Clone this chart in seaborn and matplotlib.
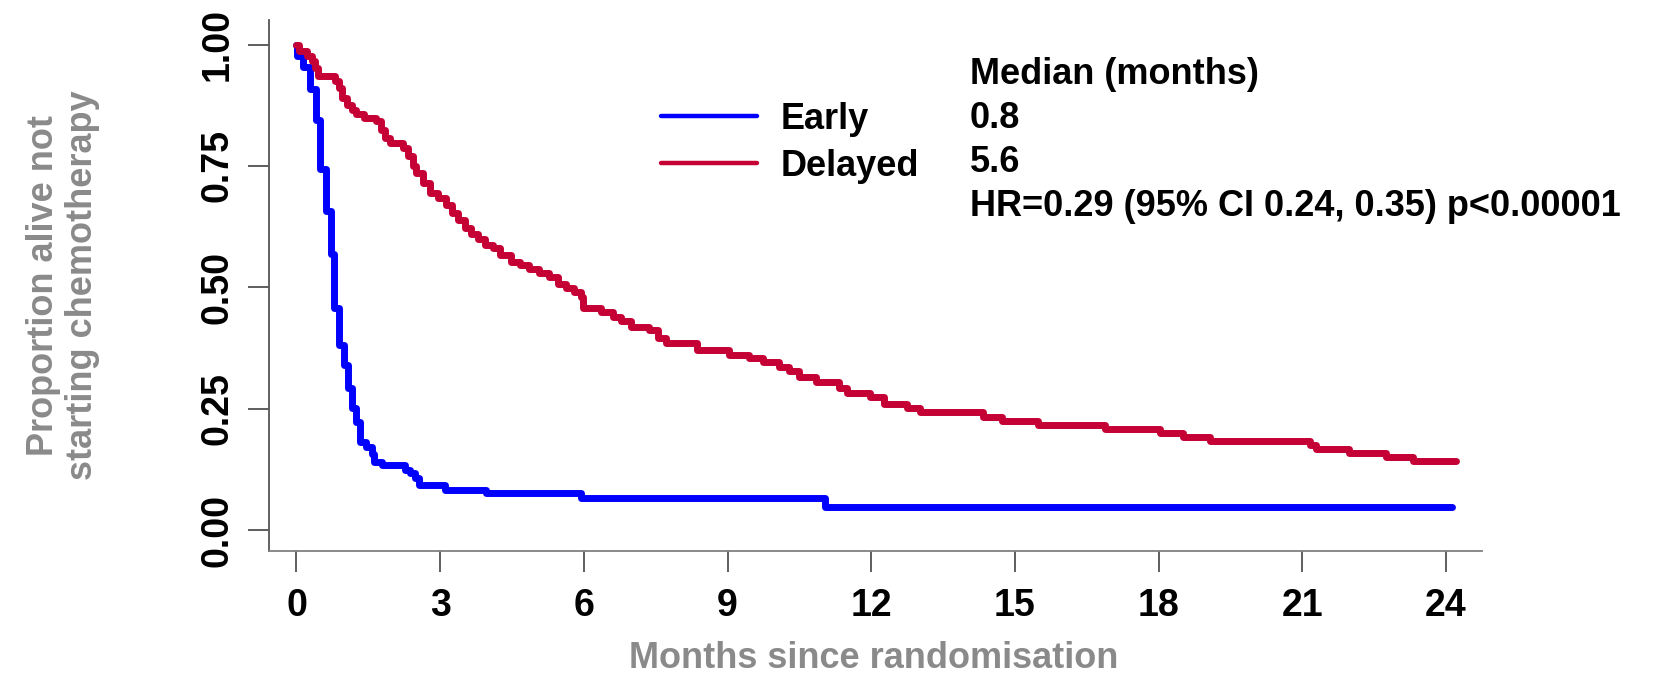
import pandas as pd
import seaborn as sns
import matplotlib.pyplot as plt

# Kaplan-Meier step curves (months, proportion after each step)
early_months = [0, 0.02, 0.135, 0.28, 0.40, 0.50, 0.61, 0.72, 0.78, 0.88, 0.99, 1.08, 1.16,
                1.25, 1.32, 1.46, 1.57, 1.61, 1.78, 2.26, 2.38, 2.47, 2.55, 3.11, 3.96,
                5.94, 11.03, 24.13]
early_surv = [1.0, 0.976, 0.954, 0.909, 0.844, 0.744, 0.658, 0.568, 0.457, 0.381, 0.340,
              0.292, 0.251, 0.223, 0.182, 0.172, 0.158, 0.141, 0.134, 0.124, 0.117, 0.107,
              0.093, 0.084, 0.076, 0.067, 0.049, 0.049]

delayed_months = [0, 0.05, 0.21, 0.32, 0.39, 0.45, 0.80, 0.88, 0.96, 1.05, 1.15, 1.25, 1.40,
                  1.67, 1.77, 1.84, 1.95, 2.23, 2.33, 2.43, 2.50, 2.64, 2.78, 2.95, 3.13,
                  3.25, 3.38, 3.52, 3.65, 3.79, 3.93, 4.10, 4.24, 4.48, 4.66, 4.86, 5.07,
                  5.28, 5.45, 5.63, 5.80, 5.94, 5.98, 6.36, 6.60, 6.78, 6.98, 7.36, 7.54,
                  7.71, 8.37, 9.03, 9.45, 9.73, 10.07, 10.28, 10.49, 10.84, 11.32, 11.50,
                  11.98, 12.26, 12.75, 13.02, 14.34, 14.73, 15.49, 16.88, 18.02, 18.51,
                  19.07, 21.15, 21.29, 21.98, 22.75, 23.30, 24.2]
delayed_surv = [1.0, 0.986, 0.977, 0.966, 0.952, 0.936, 0.924, 0.911, 0.890, 0.876, 0.866,
                0.856, 0.849, 0.842, 0.825, 0.808, 0.797, 0.787, 0.770, 0.749, 0.735, 0.715,
                0.694, 0.684, 0.670, 0.653, 0.638, 0.622, 0.610, 0.600, 0.588, 0.581, 0.567,
                0.553, 0.546, 0.538, 0.529, 0.522, 0.508, 0.498, 0.491, 0.481, 0.457, 0.450,
                0.440, 0.430, 0.419, 0.412, 0.395, 0.385, 0.371, 0.361, 0.354, 0.347, 0.337,
                0.327, 0.316, 0.305, 0.292, 0.283, 0.275, 0.260, 0.251, 0.243, 0.234, 0.225,
                0.217, 0.209, 0.201, 0.192, 0.184, 0.175, 0.167, 0.159, 0.150, 0.142, 0.142]

x_ticks = [0, 3, 6, 9, 12, 15, 18, 21, 24]
y_ticks = [0, 0.25, 0.5, 0.75, 1.0]
y_tick_labels = ['0.00', '0.25', '0.50', '0.75', '1.00']
median_lines = ['Median (months)', '0.8', '5.6', 'HR=0.29 (95% CI 0.24, 0.35) p<0.00001']

df = pd.concat([
    pd.DataFrame({'months': early_months, 'surv': early_surv, 'arm': 'Early'}),
    pd.DataFrame({'months': delayed_months, 'surv': delayed_surv, 'arm': 'Delayed'}),
])

sns.set_theme(style='ticks')
plt.rcParams['font.family'] = ['Liberation Sans', 'DejaVu Sans']
plt.rcParams['font.weight'] = 'bold'
plt.rcParams['text.color'] = 'black'
plt.rcParams['xtick.color'] = 'black'
plt.rcParams['ytick.color'] = 'black'

W, H = 1654, 678
fig = plt.figure(figsize=(W / 100, H / 100), dpi=100)
ax = fig.add_axes([269 / W, 1 - 551 / H, (1482 - 269) / W, (551 - 20) / H])

sns.lineplot(data=df, x='months', y='surv', hue='arm', hue_order=['Early', 'Delayed'],
             palette={'Early': '#0000FF', 'Delayed': '#C50034'}, drawstyle='steps-post',
             linewidth=5, estimator=None, sort=False, ax=ax)

ax.set_xlim(-0.574, 24.75)
ax.set_ylim(-0.0426, 1.0505)
ax.set_xticks(x_ticks)
ax.set_yticks(y_ticks)
ax.set_yticklabels(y_tick_labels, rotation=90, va='center')
ax.set_xlabel('')
ax.set_ylabel('')
ax.spines[['top', 'right']].set_visible(False)
ax.spines['left'].set_color('#555555')
ax.spines['bottom'].set_color('#808080')
for s in ['left', 'bottom']:
    ax.spines[s].set_linewidth(1.3)
ax.tick_params(axis='both', length=15, width=1.1, color='#333333', labelcolor='black',
               labelsize=27)
ax.tick_params(axis='x', pad=12)
ax.tick_params(axis='y', pad=9)
for lab in ax.get_xticklabels() + ax.get_yticklabels():
    lab.set_fontweight('bold')

# Legend with the two arms
handles, labels = ax.get_legend_handles_labels()
leg = ax.legend(handles, labels, loc='center left', bbox_to_anchor=(661 / W, 1 - 143 / H),
                bbox_transform=fig.transFigure, frameon=False, borderpad=0,
                borderaxespad=0, handlelength=2.67, handletextpad=0.65, labelspacing=0.33,
                prop={'weight': 'bold', 'size': 26})
for line in leg.get_lines():
    line.set_linewidth(3.2)
for t in leg.get_texts():
    t.set_color('black')

# Median / HR annotation
for txt, yc in zip(median_lines, [75, 118, 162, 207]):
    fig.text(970 / W, 1 - yc / H, txt, fontsize=26, fontweight='bold', color='black',
             ha='left', va='center')

grey = '#8a8a8a'
fig.text(874 / W, 1 - 659 / H, 'Months since randomisation', fontsize=26, fontweight='bold',
         color=grey, ha='center', va='center')
fig.text(63 / W, 1 - 285 / H, 'Proportion alive not\nstarting chemotherapy', fontsize=26,
         fontweight='bold', color=grey, rotation=90, ha='center', va='center',
         multialignment='center', linespacing=1.15)

fig.savefig('out.png', dpi=100)
